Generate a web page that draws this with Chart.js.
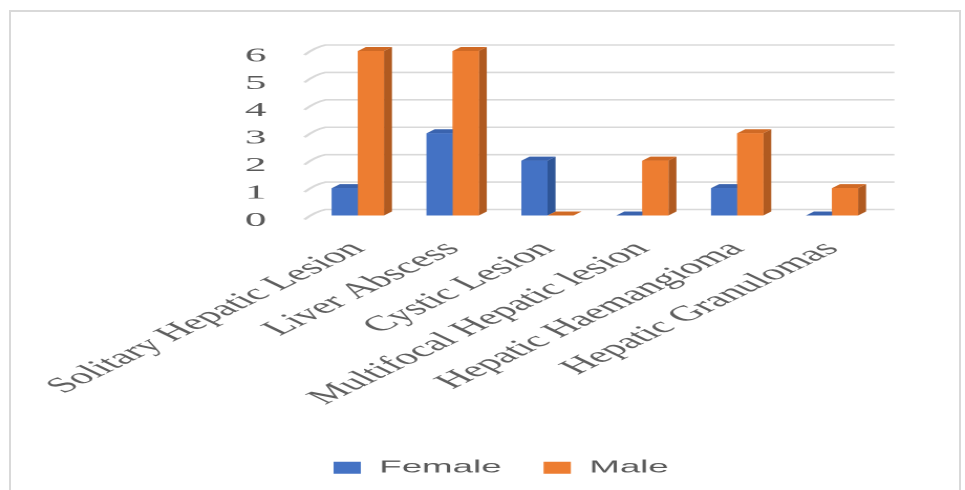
<!DOCTYPE html>
<html>
<head>
<meta charset="utf-8">
<script src="https://cdn.jsdelivr.net/npm/chart.js@4/dist/chart.umd.min.js"></script>
<style>
html,body{margin:0;padding:0;background:#fff;overflow:hidden;width:965px;height:490px;}
#frame{position:absolute;left:9px;top:10px;width:952px;height:500px;border:2px solid #d9d9d9;border-bottom:none;box-sizing:border-box;}
#wrap{position:absolute;left:0;top:0;width:460px;height:490px;transform-origin:0 0;}
</style>
</head>
<body>
<div id="frame"></div>
<div id="wrap"><canvas id="c" width="460" height="490" style="width:460px;height:490px"></canvas></div>
<script>
// ---- data ----
const categories = ['Solitary Hepatic Lesion', 'Liver Abscess', 'Cystic Lesion', 'Multifocal Hepatic lesion', 'Hepatic Haemangioma', 'Hepatic Granulomas'];
const seriesNames = ['Female', 'Male'];
const femaleValues = [1, 3, 2, 0, 1, 0];
const maleValues = [6, 6, 0, 2, 3, 1];
const yTickValues = [0, 1, 2, 3, 4, 5, 6];

// ---- styles / layout ----
const K = 965 / 460;               // horizontal stretch of the reference picture
document.getElementById('wrap').style.transform = 'scaleX(' + K + ')';
const frontColors = ['#4472C4', '#ED7D31'];
const sideColors = ['#2E5597', '#B05A20'];
const topColors = ['#3A63AE', '#D06A25'];
const BAR_DX = 8 / K, BAR_DY = 4;
const GRID_DX = 15 / K, GRID_DY = 6;

const depthPlugin = {
  id: 'depth',
  beforeDatasetsDraw(chart) {
    const {ctx, chartArea, scales} = chart;
    const y = scales.y;
    ctx.save();
    ctx.strokeStyle = '#d9d9d9';
    ctx.lineWidth = 1.6;
    y.ticks.forEach(t => {
      const py = y.getPixelForValue(t.value);
      ctx.beginPath();
      ctx.moveTo(chartArea.left - 6 / K, py + 4);
      ctx.quadraticCurveTo(chartArea.left + 5 / K, py - 4, chartArea.left + GRID_DX, py - GRID_DY);
      ctx.lineTo(chartArea.right + GRID_DX, py - GRID_DY);
      ctx.stroke();
    });
    ctx.restore();
  },
  afterDatasetsDraw(chart) {
    const ctx = chart.ctx;
    ctx.save();
    chart.data.datasets.forEach((ds, di) => {
      const meta = chart.getDatasetMeta(di);
      meta.data.forEach(bar => {
        const p = bar.getProps(['x', 'y', 'width', 'base'], true);
        const l = p.x - p.width / 2, r = p.x + p.width / 2;
        const top = p.y, base = p.base;
        ctx.fillStyle = sideColors[di];
        ctx.beginPath();
        ctx.moveTo(r, top); ctx.lineTo(r + BAR_DX, top - BAR_DY);
        ctx.lineTo(r + BAR_DX, base - BAR_DY); ctx.lineTo(r, base);
        ctx.closePath(); ctx.fill();
        ctx.fillStyle = topColors[di];
        ctx.beginPath();
        ctx.moveTo(l, top); ctx.lineTo(l + BAR_DX, top - BAR_DY);
        ctx.lineTo(r + BAR_DX, top - BAR_DY); ctx.lineTo(r, top);
        ctx.closePath(); ctx.fill();
        ctx.fillStyle = frontColors[di];
        ctx.fillRect(l, top, p.width, base - top);
      });
    });
    ctx.restore();
  }
};

new Chart(document.getElementById('c'), {
  type: 'bar',
  data: {
    labels: categories,
    datasets: [
      {label: seriesNames[0], data: femaleValues, backgroundColor: frontColors[0], borderWidth: 0},
      {label: seriesNames[1], data: maleValues, backgroundColor: frontColors[1], borderWidth: 0}
    ]
  },
  options: {
    responsive: false,
    animation: false,
    devicePixelRatio: 2,
    layout: {padding: {left: 58.6, right: 40.8, top: 51, bottom: 3.5}},
    datasets: {bar: {categoryPercentage: 0.55, barPercentage: 1.0}},
    plugins: {
      tooltip: {enabled: false},
      legend: {
        position: 'bottom',
        labels: {
          boxWidth: 13, boxHeight: 12, padding: 20,
          color: '#595959',
          font: {family: 'Liberation Sans', size: 17.5}
        }
      }
    },
    scales: {
      x: {
        grid: {display: false},
        border: {display: false},
        ticks: {
          autoSkip: false, minRotation: 45, maxRotation: 45, padding: 13,
          color: '#5f5f5f',
          font: {family: 'Liberation Serif', size: 21.5}
        },
        afterFit(s) { s.height = 223.5; s.paddingLeft = 0; s.paddingRight = 0; }
      },
      y: {
        min: 0, max: 6,
        afterBuildTicks(s) { s.ticks = yTickValues.map(v => ({value: v})); },
        grid: {display: false},
        border: {display: false},
        ticks: {
          autoSkip: false,
          padding: 13, labelOffset: 5,
          color: '#595959',
          font: {family: 'Liberation Serif', size: 20.5}
        },
        afterFit(s) { s.width = 89.4; s.paddingTop = 0; s.paddingBottom = 0; }
      }
    }
  },
  plugins: [depthPlugin]
});
</script>
</body>
</html>
